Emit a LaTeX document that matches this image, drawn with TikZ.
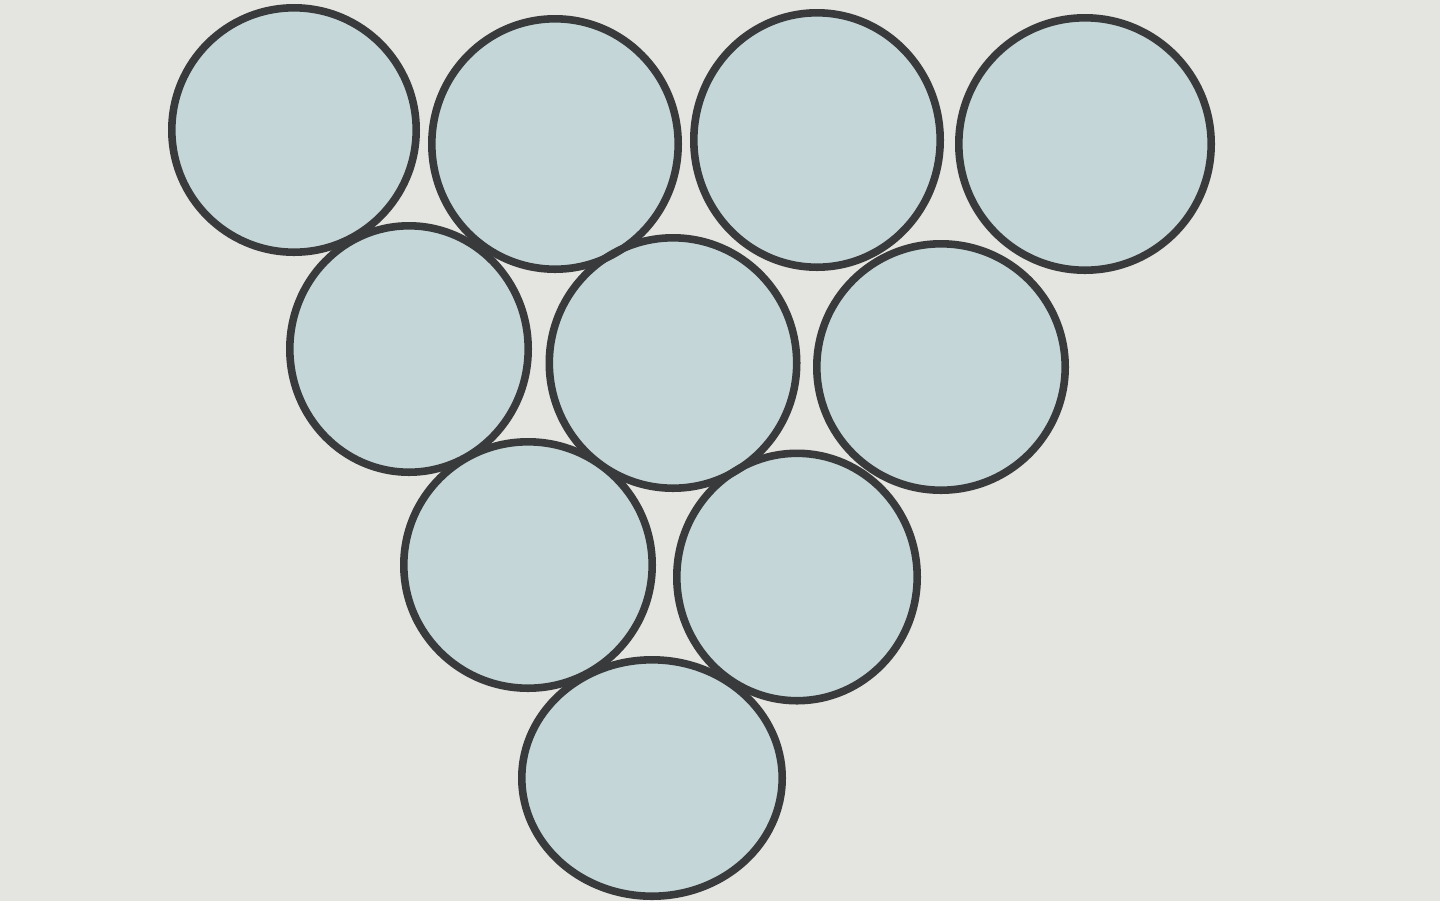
\documentclass[tikz,border=0pt]{standalone}
\usetikzlibrary{shapes.geometric}
\definecolor{bg}{HTML}{E4E4E0}
\definecolor{disc}{HTML}{C5D6D9}
\definecolor{rim}{HTML}{383A3B}
\tikzset{
  coin/.style args={#1/#2}{ellipse, inner sep=0pt, outer sep=0pt,
    minimum width=#1*0.5pt-3.8pt, minimum height=#2*0.5pt-3.8pt},
  discfill/.style={coin=#1, fill=disc},
  discrim/.style={coin=#1, draw=rim, line width=3.8pt}
}
\begin{document}
\begin{tikzpicture}[x=0.5pt,y=-0.5pt]
\fill[bg] (0,0) rectangle (1440,901);
\useasboundingbox (0,0) rectangle (1440,901);
% discs
\node[discfill=252/252] (c1) at (294,130) {};
\node[discfill=254/258] (c2) at (555,144) {};
\node[discfill=254/262] (c3) at (817,140) {};
\node[discfill=260/260] (c4) at (1085,144) {};
\node[discfill=246/254] (c5) at (409,349) {};
\node[discfill=255/258] (c6) at (673,363) {};
\node[discfill=256/254] (c7) at (941,367) {};
\node[discfill=256/254] (c8) at (528,565) {};
\node[discfill=248/255] (c9) at (797,577) {};
\node[discfill=268/244] (c10) at (652,778) {};
% rims
\node[discrim=252/252] (r1) at (c1) {};
\node[discrim=254/258] (r2) at (c2) {};
\node[discrim=254/262] (r3) at (c3) {};
\node[discrim=260/260] (r4) at (c4) {};
\node[discrim=246/254] (r5) at (c5) {};
\node[discrim=255/258] (r6) at (c6) {};
\node[discrim=256/254] (r7) at (c7) {};
\node[discrim=256/254] (r8) at (c8) {};
\node[discrim=248/255] (r9) at (c9) {};
\node[discrim=268/244] (r10) at (c10) {};
\end{tikzpicture}
\end{document}
